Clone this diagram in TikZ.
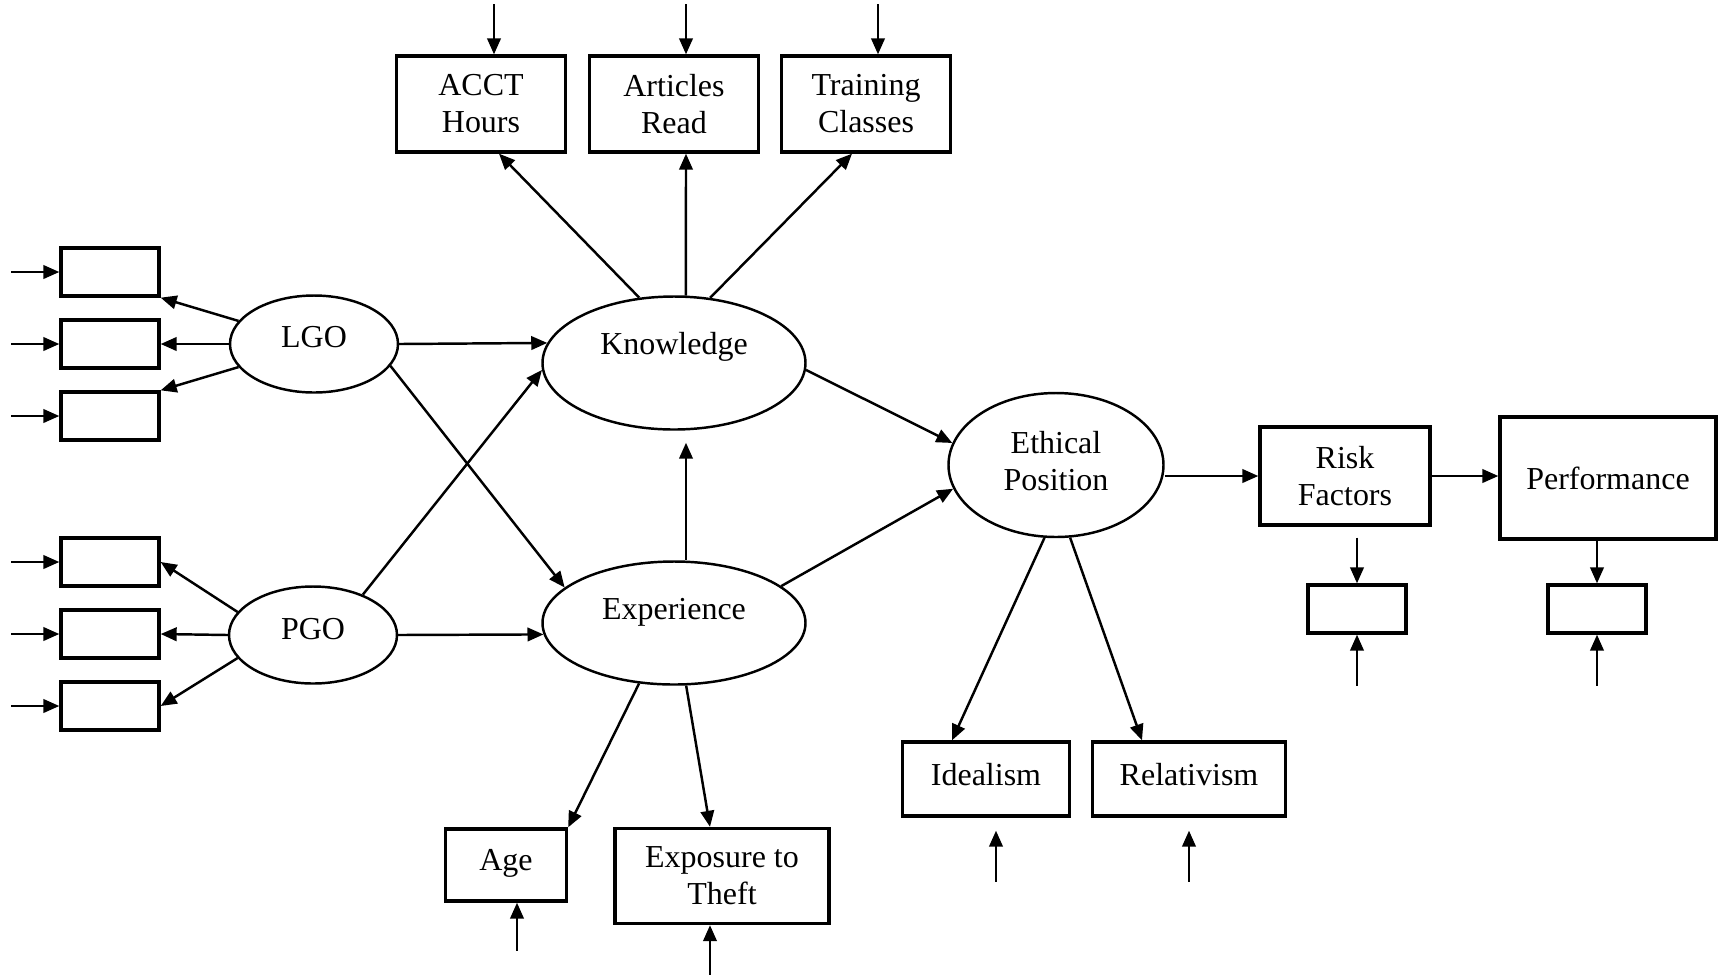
\documentclass[tikz,border=0pt]{standalone}
\usepackage{fontspec}
\setmainfont{Liberation Serif}
\usetikzlibrary{positioning,arrows.meta,shapes.geometric,calc}
\tikzset{
    lat/.style={ellipse,draw,line width=0.7pt,inner sep=0pt,align=center},
    obs/.style={rectangle,draw,line width=0.95pt,inner sep=0pt,align=center},
    err/.style={rectangle,draw,line width=0.95pt,minimum width=9.8mm,minimum height=4.8mm,inner sep=0pt},
    lift/.style={text height=7pt,text depth=#1},
    arr/.style={-{Triangle[length=1.6mm,width=1.35mm]},line width=0.7pt},
}

\begin{document}
\begin{tikzpicture}[x=0.1mm,y=-0.1mm,every node/.style={font=\fontsize{9.1}{10.5}\selectfont}]
\useasboundingbox (0,0) rectangle (1718,974);
% latent variables
\node[lat,lift=5pt,minimum width=16.8mm,minimum height=9.7mm] (lgo) at (314,344) {LGO};
\node[lat,lift=4.4pt,minimum width=16.8mm,minimum height=9.7mm] (pgo) at (313,635) {PGO};
\node[lat,lift=11.8pt,minimum width=26.3mm,minimum height=13.3mm] (know) at (674,363) {Knowledge};
\node[lat,lift=9pt,minimum width=26.3mm,minimum height=12.3mm] (exp) at (674,623) {Experience};
\node[lat,text depth=2.5pt,minimum width=21.5mm,minimum height=14.4mm] (eth) at (1056,465) {Ethical\\Position};
% observed variables
\node[obs,minimum width=16.9mm,minimum height=9.6mm] (acct) at (481,104) {ACCT\\Hours};
\node[obs,minimum width=16.9mm,minimum height=9.6mm] (art)  at (674,104) {Articles\\Read};
\node[obs,minimum width=16.9mm,minimum height=9.6mm] (trn)  at (866,104) {Training\\Classes};
\node[obs,minimum width=17mm,minimum height=9.8mm] (risk) at (1345,476) {Risk\\Factors};
\node[obs,minimum width=21.6mm,minimum height=12.2mm] (perf) at (1608,478) {Performance};
\node[obs,lift=4pt,minimum width=12.1mm,minimum height=7.2mm] (age)  at (506,865) {Age};
\node[obs,minimum width=21.4mm,minimum height=9.5mm] (expo) at (722,876) {Exposure to\\Theft};
\node[obs,lift=3.2pt,minimum width=16.7mm,minimum height=7.4mm] (idl)  at (986,779) {Idealism};
\node[obs,lift=3.2pt,minimum width=19.3mm,minimum height=7.4mm] (rel)  at (1189,779) {Relativism};
% unlabelled indicators
\node[err] (l1) at (110,272) {};
\node[err] (l2) at (110,344) {};
\node[err] (l3) at (110,416) {};
\node[err] (p1) at (110,562) {};
\node[err] (p2) at (110,634) {};
\node[err] (p3) at (110,706) {};
\node[err] (rerr) at (1357,609) {};
\node[err] (perr) at (1597,609) {};

\draw[arr] (lgo.163) -- (l1.south east);
\draw[arr] (lgo.west) -- (l2.east);
\draw[arr] (lgo.197) -- (l3.north east);
\draw[arr] (pgo.163) -- (p1.east);
\draw[arr] (pgo.west) -- (p2.east);
\draw[arr] (pgo.197) -- (p3.east);
\draw[arr] ($(l1.west)+(-48,0)$) -- (l1.west);
\draw[arr] ($(l2.west)+(-48,0)$) -- (l2.west);
\draw[arr] ($(l3.west)+(-48,0)$) -- (l3.west);
\draw[arr] ($(p1.west)+(-48,0)$) -- (p1.west);
\draw[arr] ($(p2.west)+(-48,0)$) -- (p2.west);
\draw[arr] ($(p3.west)+(-48,0)$) -- (p3.west);

\draw[arr] (lgo.east) -- (know.171);
\draw[arr] (lgo.-16) -- (exp.162);
\draw[arr] (pgo.39) -- (know.183);
\draw[arr] (pgo.east) -- (exp.185);
\draw[arr] ($(exp.north)+(12,0)$) -- ($(know.south)+(12,12)$);
\draw[arr] (know.-3) -- (eth.168);
\draw[arr] (exp.19) -- (eth.193);

\draw[arr] (know.118) -- ($(acct.south)+(18,0)$);
\draw[arr] (know.80) -- ($(art.south)+(12,0)$);
\draw[arr] (know.61) -- ($(trn.south)+(-14,0)$);
\draw[arr] ($(acct.north)+(13,-50)$) -- ($(acct.north)+(13,0)$);
\draw[arr] ($(art.north)+(12,-50)$) -- ($(art.north)+(12,0)$);
\draw[arr] ($(trn.north)+(12,-50)$) -- ($(trn.north)+(12,0)$);

\draw[arr] (exp.240) -- (age.north east);
\draw[arr] (exp.281) -- ($(expo.north)+(-12,0)$);
\draw[arr] ($(age.south)+(11,48)$) -- ($(age.south)+(11,0)$);
\draw[arr] ($(expo.south)+(-12,50)$) -- ($(expo.south)+(-12,0)$);

\draw[arr] (eth.261) -- ($(idl.north)+(-34,0)$);
\draw[arr] (eth.281) -- ($(rel.north)+(-47,0)$);
\draw[arr] ($(idl.south)+(10,64)$) -- ($(idl.south)+(10,13)$);
\draw[arr] ($(rel.south)+(0,64)$) -- ($(rel.south)+(0,13)$);

\draw[arr] (eth.east |- risk.west) -- (risk.west);
\draw[arr] (risk.east) -- (risk.east -| perf.west);
\draw[arr] ($(rerr.north |- risk.south)+(0,11)$) -- (rerr.north);
\draw[arr] (perf.south -| perr.north) -- (perr.north);
\draw[arr] ($(rerr.south)+(0,51)$) -- (rerr.south);
\draw[arr] ($(perr.south)+(0,51)$) -- (perr.south);
\end{tikzpicture}
\end{document}
